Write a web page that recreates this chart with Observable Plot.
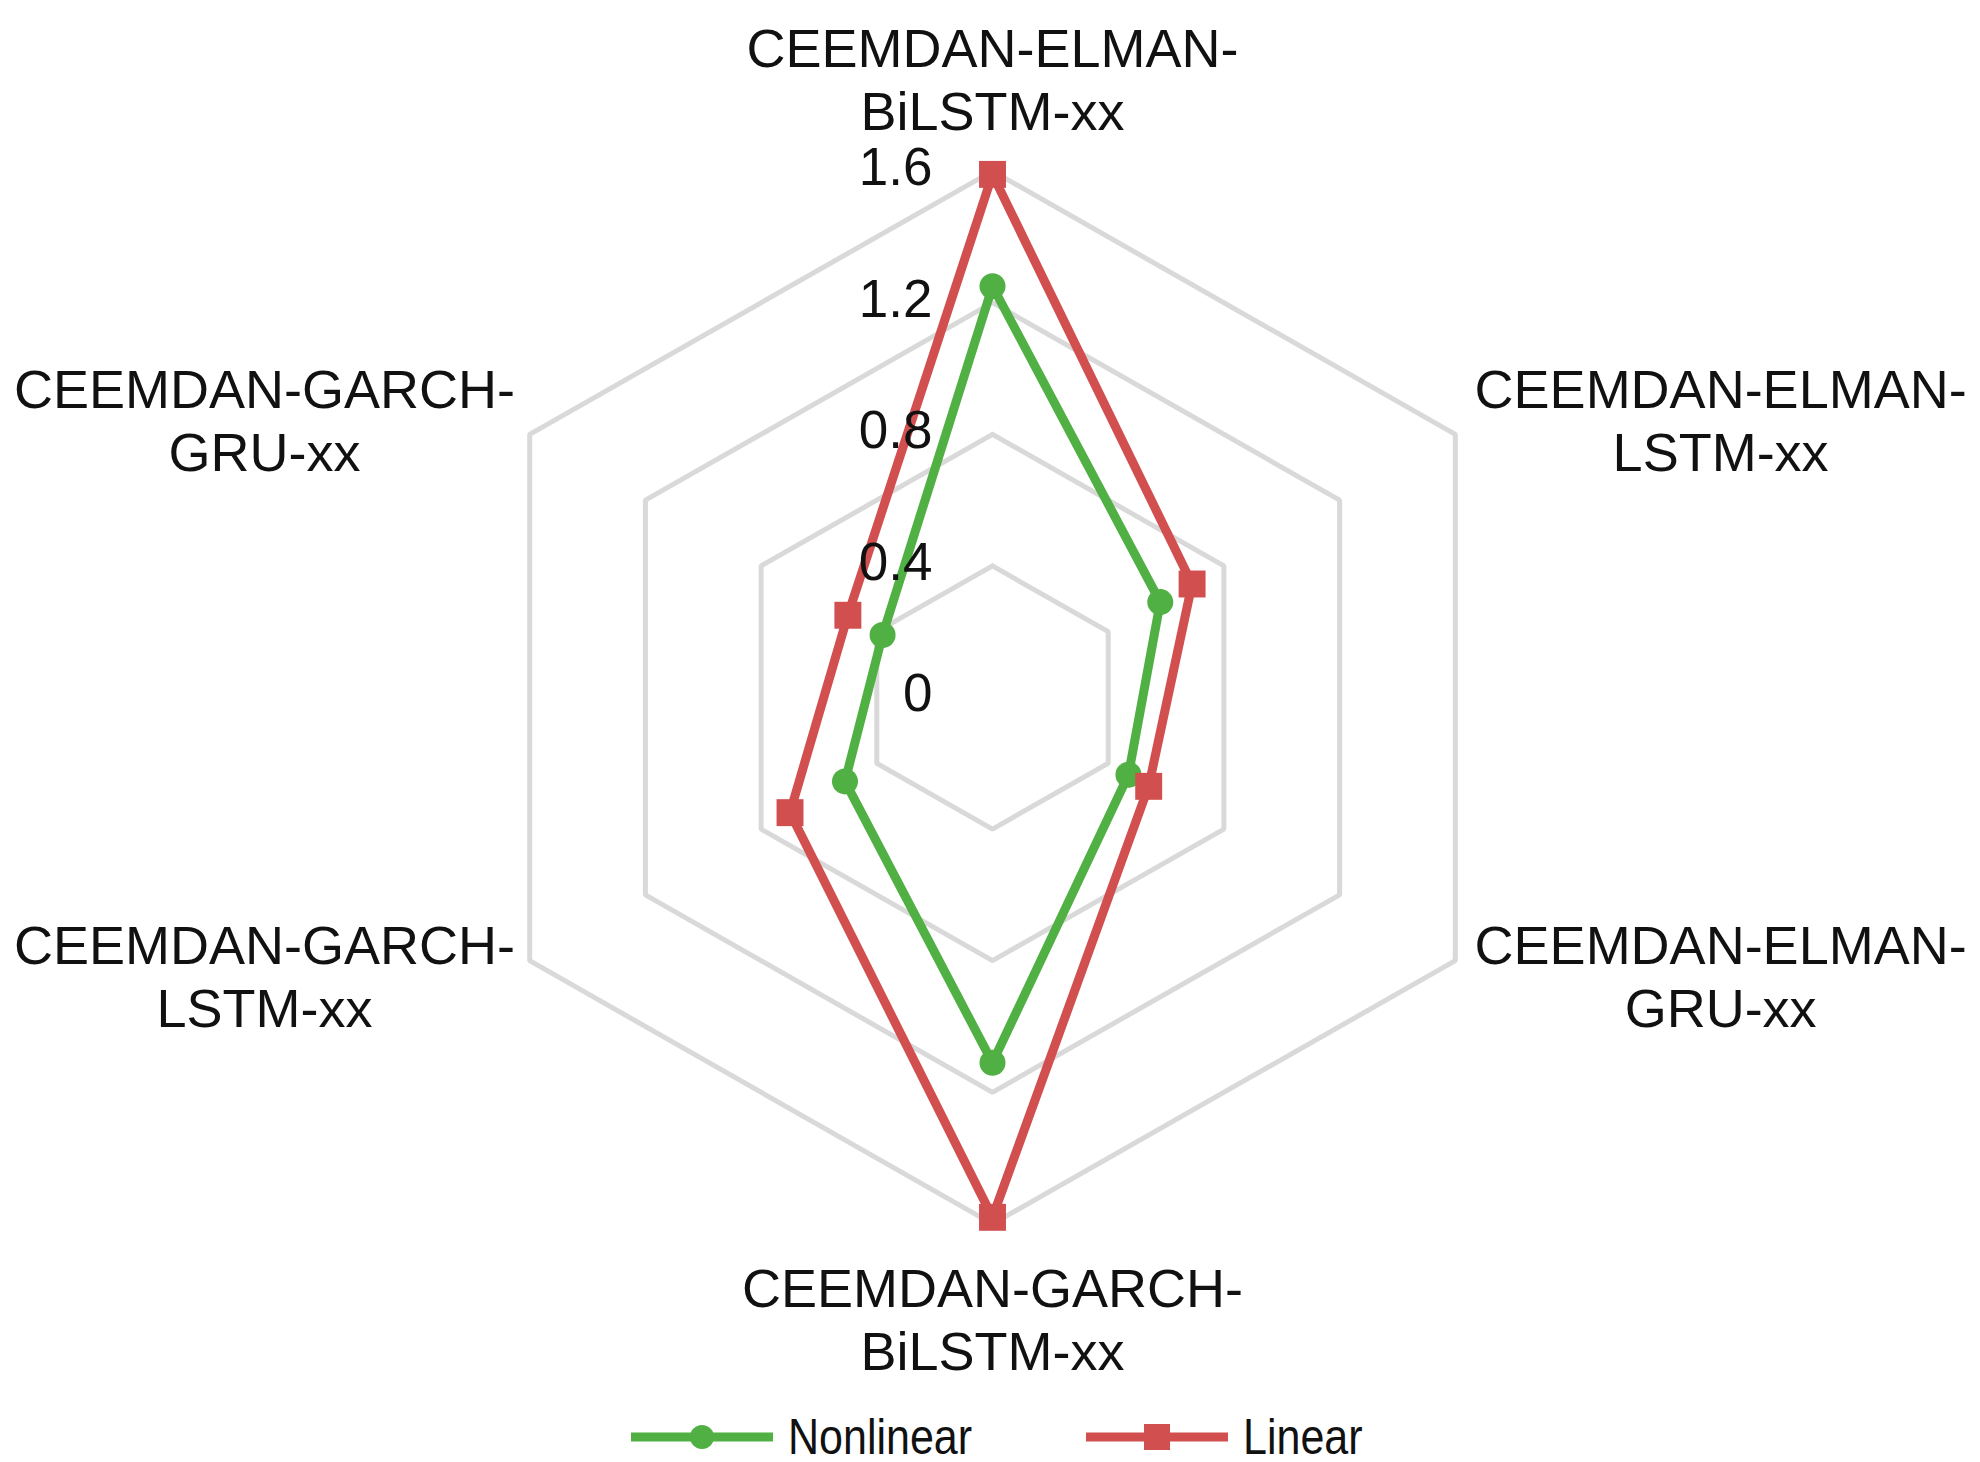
<!DOCTYPE html>
<html>
<head>
<meta charset="utf-8">
<script src="https://cdn.jsdelivr.net/npm/d3@7"></script>
<script src="https://cdn.jsdelivr.net/npm/@observablehq/plot@0.6"></script>
<style>
  html, body { margin: 0; padding: 0; background: #fff; }
  body { width: 1980px; font-family: "Liberation Sans", Arial, sans-serif; }
  #legend { position: relative; height: 57px; width: 1980px; }
  .item { position: absolute; top: 0; height: 57px; display: flex; align-items: center; padding-top: 7px; box-sizing: border-box; }
  .item span { display: inline-block; font-size: 50px; color: #111; transform: scaleX(0.86); transform-origin: left center; margin-left: 15px; line-height: 1; }
</style>
</head>
<body>
<div id="chart"></div>
<div id="legend"></div>
<script>
// ---- data ----
const categories = [
  "CEEMDAN-ELMAN-\nBiLSTM-xx",
  "CEEMDAN-ELMAN-\nLSTM-xx",
  "CEEMDAN-ELMAN-\nGRU-xx",
  "CEEMDAN-GARCH-\nBiLSTM-xx",
  "CEEMDAN-GARCH-\nLSTM-xx",
  "CEEMDAN-GARCH-\nGRU-xx"
];
const nonlinear = [1.25, 0.58, 0.47, 1.11, 0.51, 0.38];
const linear = [1.59, 0.69, 0.54, 1.58, 0.70, 0.50];
const tickValues = [0, 0.4, 0.8, 1.2, 1.6];
const seriesNames = ["Nonlinear", "Linear"];
const seriesColors = ["#50b043", "#d24f4f"];
const seriesSymbols = ["circle", "square"];

// ---- layout ----
const W = 1980, H = 1405;
const cx = 992, cy = 697;      // pixel centre of the radar
const kx = 334, ky = 329;      // pixels per value unit
const n = categories.length;
const ang = i => (i % n) * 2 * Math.PI / n;

const rings = tickValues.filter(t => t > 0).flatMap(t =>
  d3.range(n + 1).map(j => ({t, x: t * Math.sin(ang(j)), y: t * Math.cos(ang(j))})));

const seriesVals = [nonlinear, linear];
const seriesPts = seriesVals.map((vals, s) =>
  d3.range(n + 1).map(j => ({
    series: seriesNames[s],
    v: vals[j % n],
    x: vals[j % n] * Math.sin(ang(j)),
    y: vals[j % n] * Math.cos(ang(j))
  })));

function labelPos(i) {
  const s = Math.sin(ang(i)), c = Math.cos(ang(i));
  if (Math.abs(s) < 1e-6) return {x: 0, y: c > 0 ? 1.881 : -1.888};
  return {x: Math.sign(s) * 2.18, y: Math.sign(c) * 0.845};
}
const labels = categories.map((c, i) => ({text: c, ...labelPos(i)}));

const chart = Plot.plot({
  width: W,
  height: H,
  margin: 0,
  style: {background: "#fff", fontFamily: "'Liberation Sans', Arial, sans-serif", color: "#111"},
  x: {domain: [-cx / kx, (W - cx) / kx], axis: null},
  y: {domain: [-(H - cy) / ky, cy / ky], axis: null},
  marks: [
    Plot.line(rings, {x: "x", y: "y", z: "t", stroke: "#d9d9d9", strokeWidth: 5, strokeLinejoin: "miter"}),
    ...seriesPts.map((pts, s) =>
      Plot.line(pts, {x: "x", y: "y", stroke: seriesColors[s], strokeWidth: 9, strokeLinejoin: "round"})),
    Plot.dot(seriesPts[0].slice(0, n), {x: "x", y: "y", symbol: seriesSymbols[0], r: 13, fill: seriesColors[0], stroke: "none"}),
    Plot.dot(seriesPts[1].slice(0, n), {x: "x", y: "y", symbol: seriesSymbols[1], r: 15.2, fill: seriesColors[1], stroke: "none"}),
    Plot.text(tickValues, {x: () => -60 / kx, y: d => d, text: d => String(d), textAnchor: "end", fontSize: 53, dy: -3, fill: "#111"}),
    Plot.text(labels, {x: "x", y: "y", text: "text", lineAnchor: "middle", lineHeight: 1.16, fontSize: 54, fill: "#111"})
  ]
});
document.getElementById("chart").appendChild(chart);

// ---- legend ----
const legendLeft = [631, 1086];
const legend = d3.select("#legend");
seriesNames.forEach((name, s) => {
  const item = legend.append("div").attr("class", "item").style("left", legendLeft[s] + "px");
  const sv = item.append("svg").attr("width", 142).attr("height", 30);
  sv.append("line").attr("x1", 0).attr("x2", 142).attr("y1", 15).attr("y2", 15)
    .attr("stroke", seriesColors[s]).attr("stroke-width", 9);
  if (seriesSymbols[s] === "circle") {
    sv.append("circle").attr("cx", 71).attr("cy", 15).attr("r", 12).attr("fill", seriesColors[s]);
  } else {
    sv.append("rect").attr("x", 58).attr("y", 2).attr("width", 26).attr("height", 26).attr("fill", seriesColors[s]);
  }
  item.append("span").text(name);
});
</script>
</body>
</html>
